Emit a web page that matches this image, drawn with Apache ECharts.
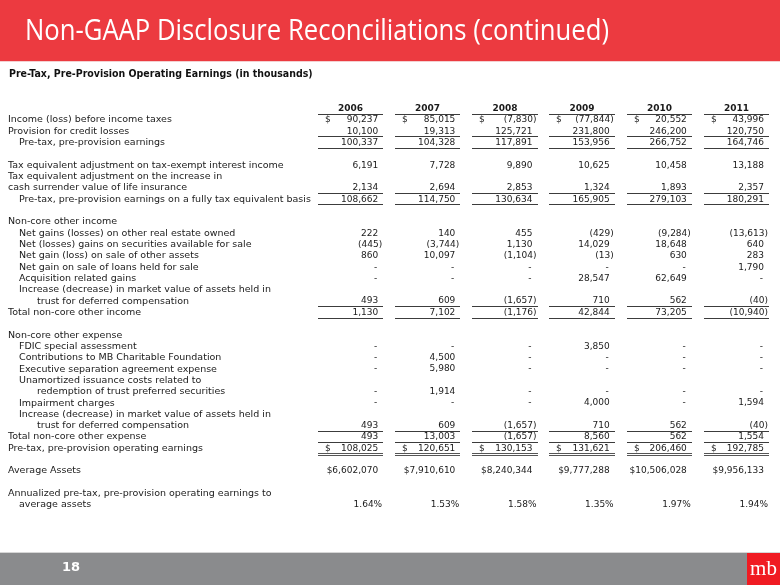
<!DOCTYPE html>
<html>
<head>
<meta charset="utf-8">
<script src="https://cdn.jsdelivr.net/npm/echarts@6/dist/echarts.min.js"></script>
<style>
html,body{margin:0;padding:0;background:#fff;}
#chart{width:780px;height:585px;}
</style>
</head>
<body>
<div id="chart"></div>
<script>
const titleText = 'Non-GAAP Disclosure Reconciliations (continued)';
const subtitleText = 'Pre-Tax, Pre-Provision Operating Earnings (in thousands)';
const pageNumber = '18';

const years = ['2006', '2007', '2008', '2009', '2010', '2011'];

const rowLabels = [
  '',
  'Income (loss) before income taxes',
  'Provision for credit losses',
  'Pre-tax, pre-provision earnings',
  '',
  'Tax equivalent adjustment on tax-exempt interest income',
  'Tax equivalent adjustment on the increase in',
  'cash surrender value of life insurance',
  'Pre-tax, pre-provision earnings on a fully tax equivalent basis',
  '',
  'Non-core other income',
  'Net gains (losses) on other real estate owned',
  'Net (losses) gains on securities available for sale',
  'Net gain (loss) on sale of other assets',
  'Net gain on sale of loans held for sale',
  'Acquisition related gains',
  'Increase (decrease) in market value of assets held in',
  'trust for deferred compensation',
  'Total non-core other income',
  '',
  'Non-core other expense',
  'FDIC special assessment',
  'Contributions to MB Charitable Foundation',
  'Executive separation agreement expense',
  'Unamortized issuance costs related to',
  'redemption of trust preferred securities',
  'Impairment charges',
  'Increase (decrease) in market value of assets held in',
  'trust for deferred compensation',
  'Total non-core other expense',
  'Pre-tax, pre-provision operating earnings',
  '',
  'Average Assets',
  '',
  'Annualized pre-tax, pre-provision operating earnings to',
  'average assets'
];

const v2006 = [null, 90237, 10100, 100337, null, 6191, null, 2134, 108662, null, null, 222, -445, 860, 0, 0, null, 493, 1130, null, null, 0, 0, 0, null, 0, 0, null, 493, 493, 108025, null, 6602070, null, null, 1.64];
const v2007 = [null, 85015, 19313, 104328, null, 7728, null, 2694, 114750, null, null, 140, -3744, 10097, 0, 0, null, 609, 7102, null, null, 0, 4500, 5980, null, 1914, 0, null, 609, 13003, 120651, null, 7910610, null, null, 1.53];
const v2008 = [null, -7830, 125721, 117891, null, 9890, null, 2853, 130634, null, null, 455, 1130, -1104, 0, 0, null, -1657, -1176, null, null, 0, 0, 0, null, 0, 0, null, -1657, -1657, 130153, null, 8240344, null, null, 1.58];
const v2009 = [null, -77844, 231800, 153956, null, 10625, null, 1324, 165905, null, null, -429, 14029, -13, 0, 28547, null, 710, 42844, null, null, 3850, 0, 0, null, 0, 4000, null, 710, 8560, 131621, null, 9777288, null, null, 1.35];
const v2010 = [null, 20552, 246200, 266752, null, 10458, null, 1893, 279103, null, null, -9284, 18648, 630, 0, 62649, null, 562, 73205, null, null, 0, 0, 0, null, 0, 0, null, 562, 562, 206460, null, 10506028, null, null, 1.97];
const v2011 = [null, 43996, 120750, 164746, null, 13188, null, 2357, 180291, null, null, -13613, 640, 283, 1790, 0, null, -40, -10940, null, null, 0, 0, 0, null, 0, 1594, null, -40, 1554, 192785, null, 9956133, null, null, 1.94];

const columns = [v2006, v2007, v2008, v2009, v2010, v2011];

// presentation (not data)
const rowIndent = [0,0,0,1,0,0,0,0,1,0,0,1,1,1,1,1,1,2,0,0,0,1,1,1,1,2,1,1,2,0,0,0,0,0,0,1];
const rowFormat = {1: 'dollar', 30: 'dollar', 32: 'assets', 35: 'pct'};
const rowRule = {0: 'single', 2: 'single', 3: 'single', 7: 'single', 8: 'single', 17: 'single', 18: 'single', 28: 'single', 29: 'single', 30: 'double'};

const FONT = '"DejaVu Sans", Verdana, sans-serif';
const TXT = '#1a1a1a';

function fmtInt(n) {
  return Math.abs(n).toString().replace(/\B(?=(\d{3})+(?!\d))/g, ',');
}

const cellData = [];
years.forEach(function (y, c) {
  cellData.push([c, 0, y]);
  columns[c].forEach(function (v, r) {
    if (v !== null && v !== undefined) cellData.push([c, r, v]);
  });
});

function renderCell(params, api) {
  const c = api.value(0), r = api.value(1);
  const raw = cellData[params.dataIndex][2];
  const p = api.coord([c, r]);
  const sz = api.size([1, 1]);
  const bw = sz[0], rh = sz[1];
  const bandL = p[0] - bw / 2, bandR = p[0] + bw / 2;
  const lineL = Math.round(bandL + 11), lineR = Math.round(bandR - 1);
  const numR = bandR - 6;
  const children = [];
  const cy = p[1];
  function txt(s, x, align, bold) {
    children.push({
      type: 'text',
      style: {
        text: s, x: x, y: cy,
        align: align, verticalAlign: 'middle',
        textAlign: align, textVerticalAlign: 'middle',
        font: (bold ? 'bold ' : '') + '9px ' + FONT,
        fill: TXT
      }
    });
  }
  if (r === 0) {
    txt(String(raw), (lineL + lineR) / 2, 'center', true);
  } else {
    const fmt = rowFormat[r] || 'num';
    if (fmt === 'pct') {
      txt(raw.toFixed(2) + '%', numR + 4, 'right');
    } else if (fmt === 'assets') {
      txt('$' + fmtInt(raw), numR, 'right');
    } else {
      if (fmt === 'dollar') txt('$', lineL + 7, 'left');
      if (raw === 0) txt('-', numR - 1, 'right');
      else if (raw < 0) txt('(' + fmtInt(raw) + ')', numR + 4, 'right');
      else txt(fmtInt(raw), numR, 'right');
    }
  }
  const rule = rowRule[r];
  if (rule === 'single') {
    const ly = Math.round(cy + rh / 2 - 0.5) + 0.5;
    children.push({type: 'line', shape: {x1: lineL, y1: ly, x2: lineR, y2: ly}, style: {stroke: '#3c3c3c', lineWidth: 1}});
  } else if (rule === 'double') {
    const ly = Math.round(cy + rh / 2 - 0.5) + 0.5;
    children.push({type: 'line', shape: {x1: lineL, y1: ly, x2: lineR, y2: ly}, style: {stroke: '#555', lineWidth: 1}});
    children.push({type: 'line', shape: {x1: lineL, y1: ly + 2, x2: lineR, y2: ly + 2}, style: {stroke: '#555', lineWidth: 1}});
  }
  return {type: 'group', children: children};
}

const chart = echarts.init(document.getElementById('chart'), null, {renderer: 'canvas'});

const gridLeft = 307;
chart.setOption({
  animation: false,
  backgroundColor: '#ffffff',
  title: {
    text: subtitleText, left: 9, top: 69, padding: 0, z: 10,
    textStyle: {color: '#111', fontSize: 10.5, fontWeight: 'bold', fontFamily: '"DejaVu Sans Condensed", "DejaVu Sans", sans-serif'}
  },
  graphic: [
    {type: 'rect', left: 0, top: 0, z: 1, shape: {width: 780, height: 61}, style: {fill: '#ec3a40'}},
    {type: 'rect', left: 0, top: 61, z: 1, shape: {width: 780, height: 1}, style: {fill: '#f4d0d1'}},
    {type: 'text', x: 25, y: 31, z: 5, scaleX: 0.855, scaleY: 1,
      style: {text: titleText, fill: '#ffffff', font: '30px "Open Sans", sans-serif', align: 'left', verticalAlign: 'middle', textAlign: 'left', textVerticalAlign: 'middle'}},
    {type: 'rect', left: 0, top: 552, z: 1, shape: {width: 780, height: 33}, style: {fill: '#8a8b8d'}},
    {type: 'rect', left: 0, top: 552, z: 1, shape: {width: 780, height: 1}, style: {fill: '#d6d6d6'}},
    {type: 'rect', left: 747, top: 553, z: 2, shape: {width: 33, height: 32}, style: {fill: '#f01b22'}},
    {type: 'text', x: 763.5, y: 569, z: 3, style: {text: 'mb', fill: '#fff', font: '21px "Liberation Serif", serif', align: 'center', verticalAlign: 'middle', textAlign: 'center', textVerticalAlign: 'middle'}},
    {type: 'text', x: 62, y: 568, z: 3, style: {text: pageNumber, fill: '#fff', font: 'bold 13px "DejaVu Sans", sans-serif', align: 'left', verticalAlign: 'middle', textAlign: 'left', textVerticalAlign: 'middle'}}
  ],
  grid: {left: gridLeft, right: 10, top: 103, bottom: 74.4, containLabel: false},
  xAxis: {
    type: 'category', data: years, show: true,
    axisLine: {show: false}, axisTick: {show: false}, axisLabel: {show: false}, splitLine: {show: false}
  },
  yAxis: {
    type: 'category', data: rowLabels, inverse: true,
    axisLine: {show: false}, axisTick: {show: false}, splitLine: {show: false},
    axisLabel: {
      interval: 0, align: 'left', margin: gridLeft - 8, color: TXT,
      fontSize: 9.5, fontFamily: FONT,
      formatter: function (value, index) {
        if (!value) return '';
        return '{i' + rowIndent[index] + '|' + value + '}';
      },
      rich: {
        i0: {fontSize: 9.5, fontFamily: FONT, color: TXT, padding: [0, 0, 0, 0]},
        i1: {fontSize: 9.5, fontFamily: FONT, color: TXT, padding: [0, 0, 0, 11]},
        i2: {fontSize: 9.5, fontFamily: FONT, color: TXT, padding: [0, 0, 0, 29]}
      }
    }
  },
  series: [{
    type: 'custom',
    renderItem: renderCell,
    data: cellData.map(function (d) { return [d[0], d[1]]; }),
    encode: {x: 0, y: 1},
    silent: true
  }]
});
</script>
</body>
</html>
